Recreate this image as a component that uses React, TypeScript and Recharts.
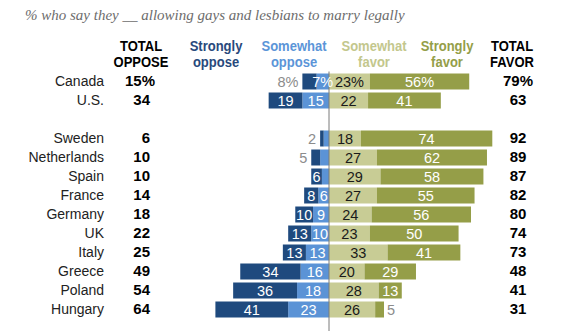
import { BarChart, Bar, XAxis, YAxis, ReferenceLine, LabelList } from 'recharts';

const countries = ['Canada', 'U.S.', ' ', 'Sweden', 'Netherlands', 'Spain', 'France', 'Germany', 'UK', 'Italy', 'Greece', 'Poland', 'Hungary'];
const stronglyOppose = [8, 19, null, 2, 5, 6, 8, 10, 13, 13, 34, 36, 41];
const somewhatOppose = [7, 15, null, 3, 5, 4, 6, 9, 10, 13, 16, 18, 23];
const somewhatFavor = [23, 22, null, 18, 27, 29, 27, 24, 23, 33, 20, 28, 26];
const stronglyFavor = [56, 41, null, 74, 62, 58, 55, 56, 50, 41, 29, 13, 5];
const totalOppose = [15, 34, null, 6, 10, 10, 14, 18, 22, 25, 49, 54, 64];
const totalFavor = [79, 63, null, 92, 89, 87, 82, 80, 74, 73, 48, 41, 31];

const C_SO = '#1f4a7e';
const C_MO = '#5b93d6';
const C_MF = '#c8cc95';
const C_SF = '#959e48';
const SANS = '"Liberation Sans", Arial, sans-serif';

const rows = countries.map((c, i) => ({
  country: c,
  so: -(stronglyOppose[i] ?? 0),
  mo: -(somewhatOppose[i] ?? 0),
  mf: somewhatFavor[i] ?? 0,
  sf: stronglyFavor[i] ?? 0,
}));

const fmt = (v: number, first: boolean) => `${v}${first ? '%' : ''}`;

// label value carries the country so the first row gets its % sign
const labelKey = (k: 'so' | 'mo' | 'mf' | 'sf') => (d: any) => `${d.country}|${Math.abs(d[k])}`;

const makeLabel = (kind: 'so' | 'mo' | 'mf' | 'sf') => (p: any) => {
  const [country, raw] = String(p.value).split('|');
  const v = Number(raw);
  if (!v || country.trim() === '') return null;
  const first = country === countries[0];
  const left = Math.min(p.x, p.x + p.width);
  const w = Math.abs(p.width);
  const cy = p.y + p.height / 2;
  const txt = fmt(v, first);
  const base = { fontFamily: SANS, fontSize: 14.5, dy: '0.36em' };
  const inside = (fill: string) => (
    <text {...base} x={left + w / 2} y={cy} textAnchor="middle" fill={fill}>{txt}</text>
  );
  if (kind === 'so') {
    if (first || v < 6) {
      return <text {...base} x={left - 4} y={cy} textAnchor="end" fill="#8c8c8c">{txt}</text>;
    }
    return inside('#fff');
  }
  if (kind === 'mo') return v < 6 ? null : inside('#fff');
  if (kind === 'mf') return inside('#1a1a1a');
  if (v < 10) {
    return <text {...base} x={left + w + 3} y={cy} textAnchor="start" fill="#8c8c8c">{txt}</text>;
  }
  return inside('#fff');
};

const RowTick = (p: any) => {
  const i = countries.indexOf(p.payload.value);
  const y = p.y;
  if (i < 0 || countries[i].trim() === '') return <g />;
  const first = i === 0;
  return (
    <g>
      <text x={104} y={y} dy="0.36em" textAnchor="end" fontFamily={SANS} fontSize={14} fill="#222">{countries[i]}</text>
      <text x={first ? 155 : 150} y={y} dy="0.36em" textAnchor="end" fontFamily={SANS} fontSize={15} fontWeight="bold" fill="#000">
        {fmt(totalOppose[i] as number, first)}
      </text>
      <text x={518} y={y} dy="0.36em" textAnchor="middle" fontFamily={SANS} fontSize={15} fontWeight="bold" fill="#000">
        {fmt(totalFavor[i] as number, first)}
      </text>
    </g>
  );
};

const headers = [
  { l1: 'TOTAL', l2: 'OPPOSE', x: 141, color: '#000' },
  { l1: 'Strongly', l2: 'oppose', x: 216, color: '#28497c' },
  { l1: 'Somewhat', l2: 'oppose', x: 294, color: '#5b95d8' },
  { l1: 'Somewhat', l2: 'favor', x: 374, color: '#c3c78d' },
  { l1: 'Strongly', l2: 'favor', x: 447, color: '#949e48' },
  { l1: 'TOTAL', l2: 'FAVOR', x: 512, color: '#000' },
];

export default function App() {
  return (
    <div style={{ position: 'absolute', left: 0, top: 0, width: 577, height: 331, background: '#fff' }}>
      <BarChart
        width={577}
        height={331}
        data={rows}
        layout="vertical"
        stackOffset="sign"
        barSize={16}
        margin={{ top: 71.5, right: 70.5, left: 150.5, bottom: 12.5 }}
      >
        <XAxis type="number" domain={[-100, 100]} hide />
        <YAxis
          type="category"
          dataKey="country"
          width={1}
          axisLine={false}
          tickLine={false}
          interval={0}
          tick={(p: any) => <RowTick {...p} />}
        />
        <Bar dataKey="mo" stackId="a" fill={C_MO} isAnimationActive={false}>
          <LabelList dataKey={labelKey('mo')} content={makeLabel('mo')} />
        </Bar>
        <Bar dataKey="so" stackId="a" fill={C_SO} isAnimationActive={false}>
          <LabelList dataKey={labelKey('so')} content={makeLabel('so')} />
        </Bar>
        <Bar dataKey="mf" stackId="a" fill={C_MF} isAnimationActive={false}>
          <LabelList dataKey={labelKey('mf')} content={makeLabel('mf')} />
        </Bar>
        <Bar dataKey="sf" stackId="a" fill={C_SF} isAnimationActive={false}>
          <LabelList dataKey={labelKey('sf')} content={makeLabel('sf')} />
        </Bar>
        <ReferenceLine
          x={0}
          stroke="#7a7a7a"
          zIndex={700}
          shape={(p: any) => (
            <line
              x1={p.x1}
              x2={p.x2}
              y1={Math.min(p.y1, p.y2)}
              y2={331}
              stroke="#7a7a7a"
              strokeWidth={1}
            />
          )}
        />
      </BarChart>
      <svg width={577} height={80} style={{ position: 'absolute', left: 0, top: 0, pointerEvents: 'none' }}>
        <text x={25} y={20} fontFamily='"Liberation Serif", Georgia, serif' fontStyle="italic" fontSize={15} fill="#6d6d6d">
          % who say they __ allowing gays and lesbians to marry legally
        </text>
        {headers.map((h) => (
          <g key={h.x} transform={`translate(${h.x},0) scale(0.84,1)`}>
            <text x={0} y={51} textAnchor="middle" fontFamily={SANS} fontWeight="bold" fontSize={15.5} fill={h.color}>{h.l1}</text>
            <text x={0} y={67} textAnchor="middle" fontFamily={SANS} fontWeight="bold" fontSize={15.5} fill={h.color}>{h.l2}</text>
          </g>
        ))}
      </svg>
    </div>
  );
}
